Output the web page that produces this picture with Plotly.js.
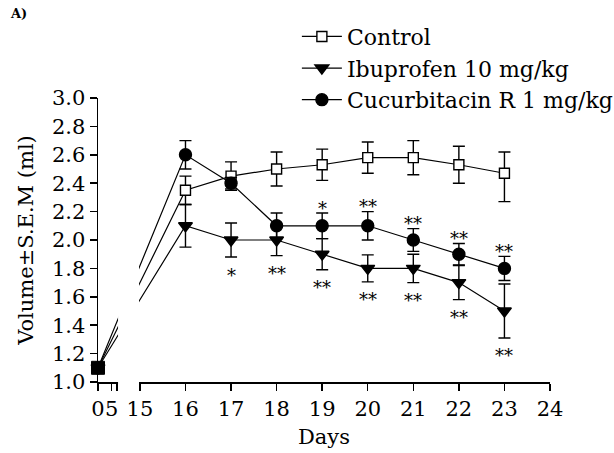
<!DOCTYPE html>
<html>
<head>
<meta charset="utf-8">
<script src="https://cdn.plot.ly/plotly-3.0.1.min.js"></script>
<style>html,body{margin:0;padding:0;background:#fff}#chart{width:614px;height:453px}</style>
</head>
<body>
<div id="chart"></div>
<script>
// ---- data ----
const days = [0, 16, 17, 18, 19, 20, 21, 22, 23];
const controlMean = [1.1, 2.35, 2.45, 2.50, 2.53, 2.58, 2.58, 2.53, 2.47];
const controlErrUp = [null, 0.10, 0.10, 0.12, 0.11, 0.11, 0.12, 0.13, 0.15];
const controlErrDown = [null, 0.10, 0.10, 0.12, 0.11, 0.11, 0.12, 0.13, 0.20];
const ibuMean = [1.1, 2.10, 2.00, 2.00, 1.90, 1.80, 1.80, 1.70, 1.50];
const ibuErr = [null, 0.15, 0.12, 0.11, 0.11, 0.095, 0.10, 0.12, 0.19];
const cucMean = [1.1, 2.60, 2.40, 2.10, 2.10, 2.10, 2.00, 1.90, 1.80];
const cucErr = [null, 0.10, 0.04, 0.09, 0.09, 0.10, 0.08, 0.075, 0.085];
const ibuSig = ['', '', '*', '**', '**', '**', '**', '**', '**'];
const cucSig = ['', '', '', '', '*', '**', '**', '**', '**'];
const leftTickDays = [0, 5];
const leftTickLabels = ['0', '5'];
const rightTickDays = [15, 16, 17, 18, 19, 20, 21, 22, 23, 24];
const yTicks = [1.0, 1.2, 1.4, 1.6, 1.8, 2.0, 2.2, 2.4, 2.6, 2.8, 3.0];

// ---- broken x-axis mapping ----
const LEFT0 = 14.08, LK = 0.06, LEFT_END = 14.5, RIGHT0 = 15;
const u = d => (d >= RIGHT0 ? d : LEFT0 + d * LK);
const X = days.map(u);

const FONT = 'DejaVu Serif, serif';
const black = '#000';

function series(name, y, errUp, errDown, symbol, fill, size) {
  return {
    type: 'scatter', mode: 'lines+markers', name: name,
    x: X, y: y, cliponaxis: false,
    line: {color: black, width: 1.2},
    marker: {symbol: symbol, size: size, color: fill, line: {color: black, width: 1.4}},
    error_y: {type: 'data', symmetric: false, array: errUp, arrayminus: errDown,
              color: black, thickness: 1.4, width: 6}
  };
}

const traces = [
  series('Control', controlMean, controlErrUp, controlErrDown, 'square', '#fff', 10),
  series('Ibuprofen 10 mg/kg', ibuMean, ibuErr, ibuErr, 'triangle-down', black, 12),
  series('Cucurbitacin R 1 mg/kg', cucMean, cucErr, cucErr, 'circle', black, 12),
  // overlapping day-0 point (all groups identical)
  {type: 'scatter', mode: 'markers', x: [X[0]], y: [controlMean[0]], showlegend: false,
   cliponaxis: false, hoverinfo: 'skip',
   marker: {symbol: 'square', size: 13, color: black, line: {color: black, width: 1}}}
];

// significance stars as annotations
const starFont = {family: FONT, size: 18, color: black};
const annotations = [
  {text: '<b>A)</b>', xref: 'paper', yref: 'paper', x: -0.2, y: 1.33, xanchor: 'left', yanchor: 'top',
   showarrow: false, font: {family: FONT, size: 13, color: black}}
];
days.forEach((d, i) => {
  if (ibuSig[i]) annotations.push({
    text: ibuSig[i], x: X[i], y: ibuMean[i] - ibuErr[i], xref: 'x', yref: 'y',
    showarrow: false, xanchor: 'center', yanchor: 'middle', yshift: -18, font: starFont});
  if (cucSig[i]) annotations.push({
    text: cucSig[i], x: X[i], y: cucMean[i] + cucErr[i], xref: 'x', yref: 'y',
    showarrow: false, xanchor: 'center', yanchor: 'middle', yshift: 5, font: starFont});
});

const tickvals = leftTickDays.map(u).concat([LEFT_END]).concat(rightTickDays);
const ticktext = leftTickLabels.concat(['']).concat(rightTickDays.map(String));

const layout = {
  width: 614, height: 453,
  margin: {l: 98, r: 64, t: 98, b: 71, autoexpand: false},
  paper_bgcolor: '#fff', plot_bgcolor: '#fff',
  font: {family: FONT, size: 21, color: black},
  showlegend: true,
  legend: {x: 0.44, xanchor: 'left', y: 1.29, yanchor: 'top',
           bgcolor: 'rgba(0,0,0,0)', font: {family: FONT, size: 22, color: black},
           itemwidth: 40, tracegroupgap: 0},
  xaxis: {
    range: [LEFT0, 24], showgrid: false, zeroline: false,
    showline: true, linecolor: black, linewidth: 1.5,
    ticks: 'outside', ticklen: 7, tickwidth: 1.5, tickcolor: black,
    tickmode: 'array', tickvals: tickvals, ticktext: ticktext, tickangle: 0,
    tickfont: {family: FONT, size: 21, color: black},
    title: {text: 'Days', font: {family: FONT, size: 21, color: black}, standoff: 9}
  },
  yaxis: {
    range: [1.0, 3.0], showgrid: false, zeroline: false,
    showline: true, linecolor: black, linewidth: 1.5,
    ticks: 'outside', ticklen: 7, tickwidth: 1.5, tickcolor: black,
    tickmode: 'array', tickvals: yTicks, ticktext: yTicks.map(v => v.toFixed(1)),
    tickfont: {family: FONT, size: 21, color: black},
    title: {text: 'Volume±S.E.M (ml)', font: {family: FONT, size: 21, color: black}, standoff: 12}
  },
  shapes: [
    // axis break gap
    {type: 'rect', xref: 'x', yref: 'paper', x0: LEFT_END + 0.02, x1: RIGHT0 - 0.02,
     y0: -0.016, y1: 0.6, fillcolor: '#fff', line: {width: 0}, layer: 'above'}
  ],
  annotations: annotations
};

Plotly.newPlot('chart', traces, layout, {displayModeBar: false, staticPlot: true});
</script>
</body>
</html>
